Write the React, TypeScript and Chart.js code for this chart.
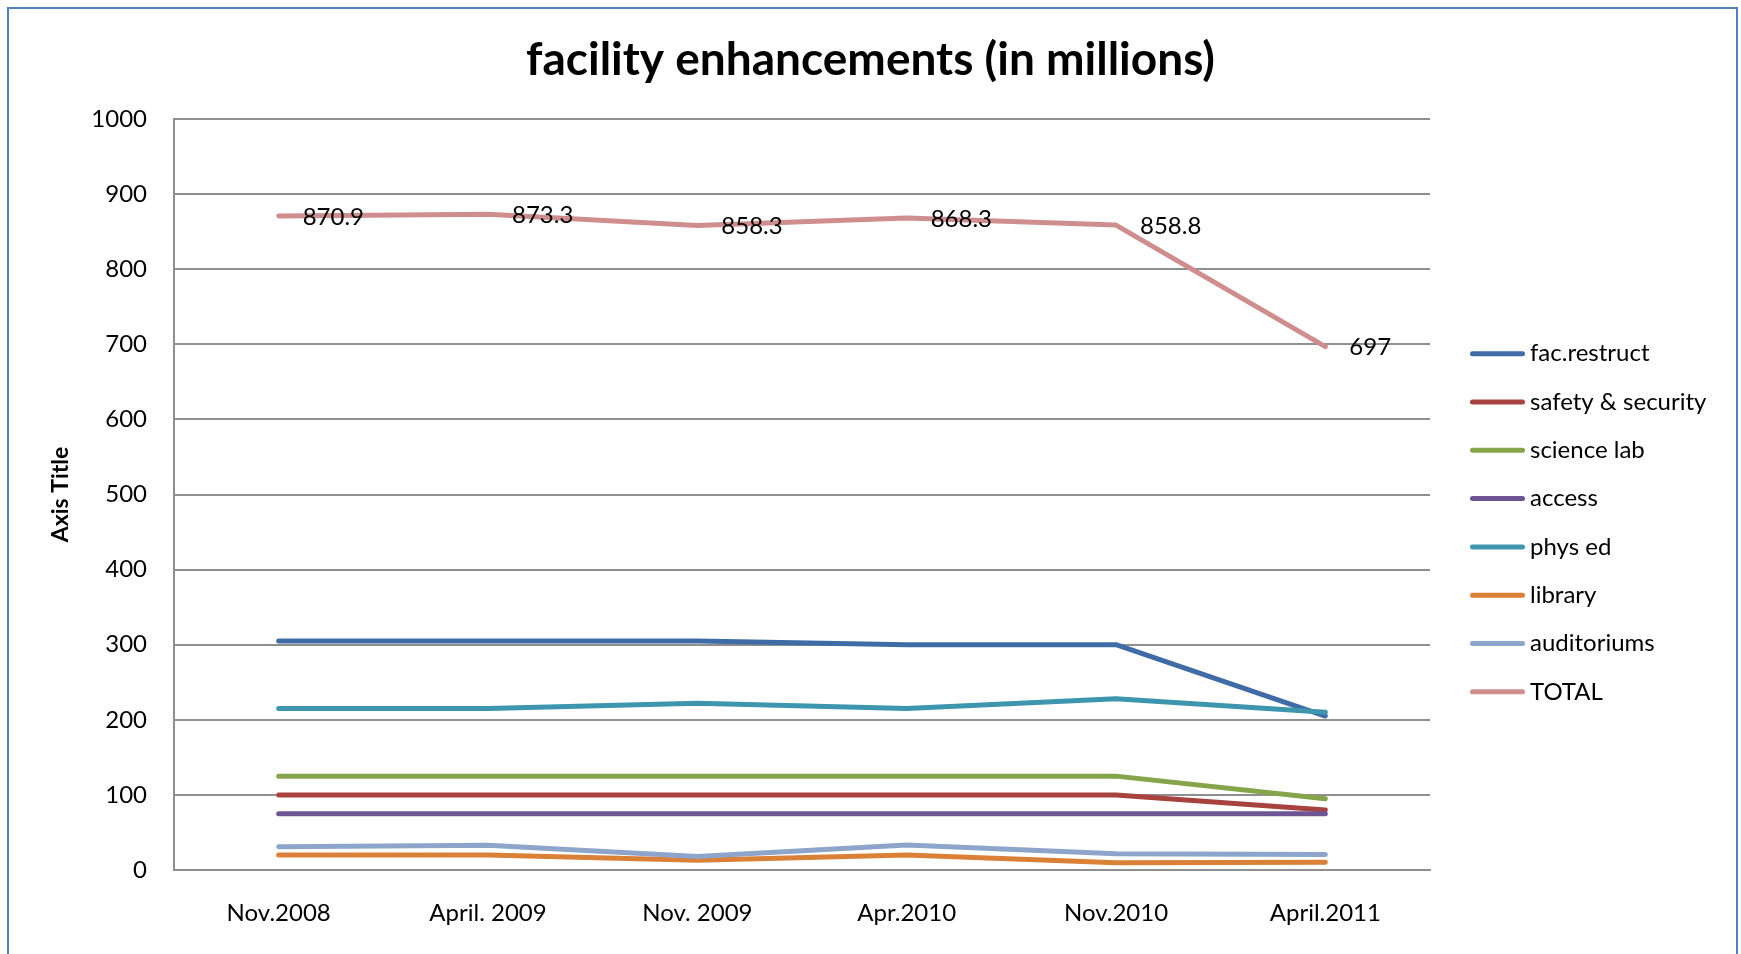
import React, { useEffect, useRef } from "react";
import { Chart, registerables, layouts } from "chart.js";

Chart.register(...registerables);

const categories = ["Nov.2008", "April. 2009", "Nov. 2009", "Apr.2010", "Nov.2010", "April.2011"];
const seriesNames = ["fac.restruct", "safety & security", "science lab", "access", "phys ed", "library", "auditoriums", "TOTAL"];
const seriesColors = ["#3F6CA7", "#A8423F", "#86A44A", "#6E5594", "#3D96AE", "#DA8137", "#8EA5CB", "#CE8E8D"];
const facRestruct = [305, 305, 305, 300, 300, 205];
const safetySecurity = [100, 100, 100, 100, 100, 80];
const scienceLab = [125, 125, 125, 125, 125, 95];
const access = [75, 75, 75, 75, 75, 75];
const physEd = [215, 215, 222, 215, 228, 210];
const library = [20, 20, 13, 20, 9.5, 10.4];
const auditoriums = [31, 33, 18, 33.3, 21.5, 20.6];
const total = [870.9, 873.3, 858.3, 868.3, 858.8, 697];
const totalLabels = ["870.9", "873.3", "858.3", "868.3", "858.8", "697"];
const yMin = 0;
const yMax = 1000;
const yStep = 100;

const seriesValues = [facRestruct, safetySecurity, scienceLab, access, physEd, library, auditoriums, total];

const FONT = "Lato";
const GRID = "#8f8f8f";
const TEXT_SIZE = 24;

const rightSpacer = {
  id: "rightSpacer",
  beforeInit(chart: any) {
    const box: any = {
      position: "right",
      weight: 100,
      fullSize: false,
      options: {},
      width: 0,
      height: 0,
      left: 0,
      top: 0,
      right: 0,
      bottom: 0,
      isHorizontal() {
        return false;
      },
      update(_w: number, h: number) {
        this.width = 311;
        this.height = h;
      },
      draw() {
        const ctx = chart.ctx;
        const area = chart.chartArea;
        chart.data.datasets.forEach((ds: any, i: number) => {
          const y = area.top + 234.7 + i * 48.3;
          ctx.save();
          ctx.strokeStyle = ds.borderColor;
          ctx.lineWidth = 5;
          ctx.lineCap = "round";
          ctx.beginPath();
          ctx.moveTo(this.left + 42.5, y);
          ctx.lineTo(this.left + 92.5, y);
          ctx.stroke();
          ctx.fillStyle = "#000";
          ctx.font = `${TEXT_SIZE}px ${FONT}`;
          ctx.textBaseline = "middle";
          ctx.textAlign = "left";
          ctx.fillText(ds.label, this.left + 100, y);
          ctx.restore();
        });
      },
    };
    layouts.addBox(chart, box);
    chart.$rightSpacer = box;
  },
};

const totalLabelsPlugin = {
  id: "totalLabels",
  afterDatasetsDraw(chart: any) {
    const idx = chart.data.datasets.findIndex((d: any) => d.label === "TOTAL");
    if (idx < 0) return;
    const meta = chart.getDatasetMeta(idx);
    const ctx = chart.ctx;
    ctx.save();
    ctx.fillStyle = "#000";
    ctx.font = `${TEXT_SIZE}px ${FONT}`;
    ctx.textBaseline = "middle";
    ctx.textAlign = "left";
    meta.data.forEach((pt: any, i: number) => {
      ctx.fillText(totalLabels[i], pt.x + 24, pt.y + 1);
    });
    ctx.restore();
  },
};

export default function App() {
  const ref = useRef<HTMLCanvasElement | null>(null);

  useEffect(() => {
    if (!ref.current) return;
    const chart = new Chart(ref.current, {
      type: "line",
      data: {
        labels: categories,
        datasets: seriesNames.map((name, i) => ({
          label: name,
          data: seriesValues[i],
          borderColor: seriesColors[i],
          backgroundColor: seriesColors[i],
          borderWidth: 5,
          pointRadius: 0,
          pointHoverRadius: 0,
          borderCapStyle: "round",
          borderJoinStyle: "round",
          fill: false,
          tension: 0,
          order: seriesNames.length - i,
        })),
      },
      options: {
        animation: false,
        responsive: true,
        maintainAspectRatio: false,
        layout: { padding: 0 },
        plugins: {
          legend: { display: false },
          tooltip: { enabled: false },
          title: {
            display: true,
            text: "facility enhancements (in millions)",
            color: "#000",
            font: { family: FONT, size: 46, weight: "bold", lineHeight: 1.2 },
            padding: { top: 32.1, bottom: 31.7 },
          },
        },
        scales: {
          x: {
            offset: true,
            grid: { display: false, drawTicks: false },
            border: { display: true, color: GRID, width: 2 },
            ticks: { color: "#000", padding: 29, font: { family: FONT, size: TEXT_SIZE }, maxRotation: 0, autoSkip: false },
            afterFit: (s: any) => {
              s.height = 84;
            },
          },
          y: {
            min: yMin,
            max: yMax,
            ticks: {
              stepSize: yStep,
              color: "#000",
              padding: 27,
              font: { family: FONT, size: TEXT_SIZE },
              callback: (v: any) => String(v),
            },
            grid: { color: GRID, lineWidth: 2, drawTicks: false },
            border: { display: true, color: GRID, width: 2 },
            title: {
              display: true,
              text: "Axis Title",
              color: "#000",
              font: { family: FONT, size: 23, weight: "bold", lineHeight: 1.2 },
              padding: { top: 47, bottom: 0 },
            },
            afterFit: (s: any) => {
              s.width = 174;
            },
          },
        },
      },
      plugins: [rightSpacer, totalLabelsPlugin],
    } as any);
    return () => chart.destroy();
  }, []);

  return (
    <div style={{ position: "fixed", left: 0, top: 0, width: 1741, height: 954, overflow: "hidden", background: "#fff" }}>
      <div
        style={{
          position: "absolute",
          left: 7,
          top: 7,
          width: 1731,
          height: 1000,
          border: "2px solid #4F81BD",
          boxSizing: "border-box",
        }}
      />
      <div style={{ position: "absolute", left: 0, top: 0, width: 1741, height: 954 }}>
        <canvas ref={ref} />
      </div>
    </div>
  );
}
